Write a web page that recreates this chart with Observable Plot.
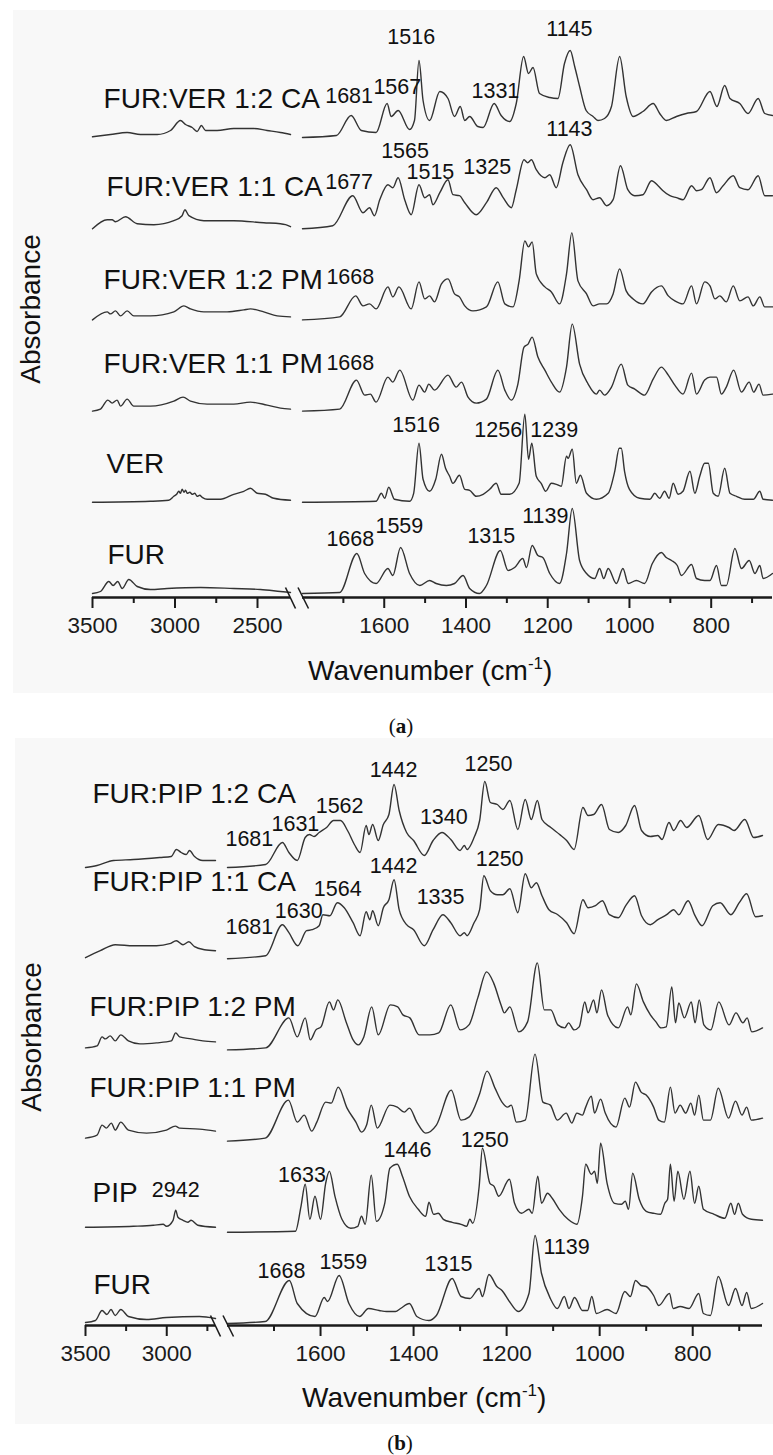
<!DOCTYPE html>
<html><head><meta charset="utf-8">
<script src="https://cdn.jsdelivr.net/npm/d3@7"></script>
<script src="https://cdn.jsdelivr.net/npm/@observablehq/plot@0.6"></script>
<style>
html,body{margin:0;padding:0;background:#fff}
body{width:773px;height:1455px;position:relative;overflow:hidden;font-family:"Liberation Sans",Arial,sans-serif}
.bg{position:absolute;background:#f8f8f8}
.abs{position:absolute}
</style></head>
<body>
<div class="bg" style="left:13px;top:10px;width:760px;height:683px"></div>
<div class="bg" style="left:15px;top:738px;width:758px;height:686px"></div>
<div id="pa" class="abs" style="left:0;top:10px;width:773px;height:700px"></div>
<div id="pb" class="abs" style="left:0;top:738px;width:773px;height:700px"></div>
<svg class="abs" style="left:0;top:0;overflow:visible" width="773" height="1455" font-family="Liberation Sans, Arial, sans-serif" fill="#111">
  <text transform="translate(40,309) rotate(-90)" text-anchor="middle" font-size="28">Absorbance</text>
  <text x="308" y="680" font-size="28">Wavenumber (cm<tspan dy="-11" font-size="17">-1</tspan><tspan dy="11">)</tspan></text>
  <text x="401" y="733" text-anchor="middle" font-family="Liberation Serif, DejaVu Serif, serif" font-size="21">(<tspan font-weight="bold">a</tspan>)</text>
  <text transform="translate(41,1037) rotate(-90)" text-anchor="middle" font-size="28">Absorbance</text>
  <text x="302" y="1407" font-size="28">Wavenumber (cm<tspan dy="-11" font-size="17">-1</tspan><tspan dy="11">)</tspan></text>
  <text x="400" y="1450" text-anchor="middle" font-family="Liberation Serif, DejaVu Serif, serif" font-size="21">(<tspan font-weight="bold">b</tspan>)</text>
</svg>
<script>
// ---------------- Panel (a): FUR / VER ----------------
const namesA = ["FUR:VER 1:2 CA", "FUR:VER 1:1 CA", "FUR:VER 1:2 PM", "FUR:VER 1:1 PM", "VER", "FUR"];
// [wavenumber, absorbance (a.u.)]
const a12CA_L = [[3500,0.7],[3391,3],[3290,5],[3209,3],[3108,3],[3027,7],[2967,17],[2936,13],[2896,10],[2866,6],[2840,12],[2815,7],[2745,7],[2644,9],[2522,9],[2442,7],[2361,5],[2300,3]];
const a12CA_R = [[1800,0],[1717,2],[1681,22],[1656,7],[1620,5],[1593,34],[1583,21],[1566,27],[1538,8],[1526,17],[1515,77],[1505,37],[1489,17],[1464,46],[1444,39],[1428,21],[1414,31],[1403,17],[1391,21],[1371,11],[1358,10],[1331,34],[1314,22],[1293,16],[1277,34],[1259,81],[1247,64],[1236,70],[1220,44],[1195,40],[1175,39],[1159,74],[1145,87],[1134,71],[1122,51],[1106,27],[1089,21],[1077,17],[1061,19],[1044,31],[1024,81],[1008,41],[991,21],[967,26],[942,34],[926,24],[910,17],[885,21],[861,24],[836,26],[803,46],[786,31],[767,52],[754,39],[730,34],[710,24],[685,39],[669,24],[650,22]];
const a11CA_L = [[3500,0],[3411,9],[3381,9],[3361,7],[3300,12],[3229,5],[3128,4],[3007,8],[2957,13],[2940,19],[2916,13],[2825,8],[2644,8],[2462,6],[2361,5],[2330,4],[2300,2]];
const a11CA_R = [[1800,0],[1726,3],[1677,33],[1652,16],[1636,21],[1624,13],[1611,29],[1591,44],[1579,41],[1566,51],[1550,29],[1534,14],[1515,44],[1501,31],[1489,34],[1481,24],[1464,36],[1444,49],[1432,34],[1416,33],[1403,26],[1375,14],[1350,26],[1326,41],[1309,31],[1289,21],[1277,39],[1258,69],[1249,66],[1240,69],[1228,59],[1207,51],[1195,54],[1179,41],[1163,66],[1145,84],[1126,54],[1105,39],[1089,29],[1073,31],[1056,23],[1040,29],[1022,63],[1004,39],[987,33],[967,34],[946,48],[930,43],[918,38],[901,33],[885,31],[869,29],[848,43],[836,38],[824,39],[803,51],[787,36],[771,43],[746,53],[730,41],[710,39],[685,53],[669,33],[650,33]];
const a12PM_L = [[3500,0],[3411,8],[3391,6],[3361,9],[3330,4],[3290,9],[3250,4],[3149,4],[3007,8],[2946,14],[2906,11],[2825,8],[2684,8],[2583,10],[2543,11],[2462,8],[2381,4],[2300,3]];
const a12PM_R = [[1800,0],[1709,3],[1670,24],[1652,14],[1636,16],[1620,11],[1591,33],[1579,23],[1564,33],[1534,11],[1515,38],[1501,21],[1489,24],[1477,18],[1460,36],[1444,41],[1428,26],[1416,23],[1403,14],[1383,9],[1350,13],[1322,38],[1305,16],[1285,13],[1270,39],[1256,79],[1247,73],[1238,78],[1228,46],[1207,33],[1191,28],[1171,16],[1154,46],[1141,87],[1126,39],[1105,26],[1089,14],[1073,16],[1056,16],[1040,26],[1024,51],[1008,29],[991,21],[967,16],[946,28],[922,34],[905,24],[889,19],[869,16],[848,34],[836,16],[816,38],[803,34],[791,21],[779,24],[763,18],[746,34],[730,19],[710,23],[697,14],[681,23],[669,13],[650,13]];
const a11PM_L = [[3500,0],[3452,2],[3407,11],[3381,8],[3351,11],[3330,5],[3290,12],[3250,5],[3149,5],[3007,10],[2951,14],[2906,10],[2805,7],[2644,7],[2543,9],[2442,6],[2361,3],[2300,2]];
const a11PM_R = [[1800,0],[1709,2],[1668,31],[1648,16],[1634,17],[1620,9],[1591,34],[1579,29],[1562,41],[1530,11],[1515,26],[1501,19],[1491,27],[1477,21],[1444,36],[1424,24],[1411,29],[1395,14],[1375,8],[1350,12],[1322,41],[1305,21],[1289,11],[1273,27],[1258,64],[1248,67],[1238,74],[1224,54],[1207,41],[1191,29],[1171,19],[1154,44],[1140,87],[1122,47],[1101,27],[1081,17],[1073,21],[1061,16],[1044,24],[1020,47],[1004,26],[987,22],[963,16],[942,32],[922,44],[905,36],[889,26],[869,17],[848,38],[836,17],[816,31],[803,34],[787,34],[775,17],[763,24],[745,41],[726,19],[707,29],[696,19],[683,27],[673,16],[650,17]];
const aVER_L = [[3500,0],[3149,1],[3038,2],[3007,6],[2990,8],[2977,11],[2967,9],[2957,13],[2945,10],[2936,12],[2926,9],[2910,10],[2896,8],[2880,9],[2866,6],[2850,7],[2835,5],[2805,3],[2724,3],[2644,8],[2583,11],[2543,14],[2502,9],[2452,8],[2401,4],[2300,2]];
const aVER_R = [[1800,0],[1620,1],[1607,9],[1599,4],[1589,15],[1575,3],[1538,1],[1528,9],[1515,59],[1505,23],[1489,11],[1474,23],[1460,48],[1450,34],[1440,26],[1432,19],[1416,27],[1403,13],[1391,12],[1375,6],[1358,8],[1342,13],[1326,19],[1314,8],[1293,8],[1270,19],[1256,88],[1247,43],[1239,59],[1228,26],[1216,19],[1205,11],[1191,19],[1179,18],[1167,16],[1154,46],[1150,44],[1140,53],[1130,19],[1120,27],[1105,9],[1081,3],[1052,9],[1036,31],[1025,54],[1020,54],[1012,31],[1000,13],[975,4],[950,3],[938,9],[926,4],[914,11],[903,4],[893,19],[881,8],[869,11],[852,31],[840,9],[828,26],[816,39],[807,39],[795,9],[783,6],[767,34],[754,9],[738,6],[718,3],[697,3],[681,11],[673,3],[650,2]];
const aFUR_L = [[3500,0],[3452,2],[3401,12],[3375,8],[3347,12],[3320,5],[3280,14],[3229,7],[3149,4],[3048,5],[2845,6],[2644,5],[2482,4],[2361,2],[2300,1]];
const aFUR_R = [[1800,0],[1709,1],[1667,40],[1648,20],[1620,10],[1591,25],[1579,18],[1560,46],[1538,20],[1513,8],[1489,13],[1473,10],[1448,8],[1428,10],[1407,18],[1391,5],[1367,0],[1350,8],[1316,43],[1297,23],[1281,26],[1261,35],[1252,26],[1238,48],[1224,38],[1212,36],[1195,20],[1171,10],[1154,40],[1140,85],[1122,33],[1105,20],[1085,15],[1073,25],[1063,15],[1052,25],[1032,10],[1016,25],[1003,10],[983,13],[963,10],[944,30],[922,41],[910,36],[897,33],[883,28],[873,18],[848,29],[836,15],[816,13],[803,13],[787,28],[775,8],[763,8],[742,45],[726,25],[707,33],[693,20],[681,28],[673,15],[650,20]];
// series label anchors [series, wavenumber, absorbance]
const nameAtA = [["FUR:VER 1:2 CA",3433,30],["FUR:VER 1:1 CA",3415,33],["FUR:VER 1:2 PM",3433,31],["FUR:VER 1:1 PM",3433,38],["VER",3415,29],["FUR",3409,30]];
// peak annotations [series, text, wavenumber, absorbance]
const peaksA = [
  ["FUR:VER 1:2 CA","1681",1686,35],["FUR:VER 1:2 CA","1567",1568,44],["FUR:VER 1:2 CA","1516",1534,94],["FUR:VER 1:2 CA","1331",1328,40],["FUR:VER 1:2 CA","1145",1147,102],
  ["FUR:VER 1:1 CA","1677",1686,40],["FUR:VER 1:1 CA","1565",1549,71],["FUR:VER 1:1 CA","1515",1487,50],["FUR:VER 1:1 CA","1325",1348,55],["FUR:VER 1:1 CA","1143",1147,93],
  ["FUR:VER 1:2 PM","1668",1683,36],["FUR:VER 1:1 PM","1668",1683,41],
  ["VER","1516",1522,70],["VER","1256",1321,65],["VER","1239",1184,65],
  ["FUR","1668",1683,48],["FUR","1559",1563,61],["FUR","1315",1338,51],["FUR","1139",1206,71]
];
const majorTicksA = [3500,3000,2500,1600,1400,1200,1000,800];
const minorTicksA = [3250,2750,1700,1500,1300,1100,900,700];

// ---------------- Panel (b): FUR / PIP ----------------
const namesB = ["FUR:PIP 1:2 CA", "FUR:PIP 1:1 CA", "FUR:PIP 1:2 PM", "FUR:PIP 1:1 PM", "PIP", "FUR"];
const b12CA_L = [[3500,0],[3429,2],[3327,7],[3205,8],[3043,10],[2972,11],[2941,18],[2911,15],[2880,13],[2860,17],[2829,11],[2778,7],[2700,7]];
const b12CA_R = [[1800,0],[1718,3],[1682,25],[1668,15],[1650,7],[1633,30],[1624,33],[1614,31],[1603,35],[1587,40],[1572,47],[1557,47],[1542,37],[1526,22],[1515,15],[1502,42],[1496,33],[1488,43],[1476,27],[1465,43],[1453,53],[1442,83],[1431,57],[1415,35],[1400,27],[1377,12],[1358,27],[1339,35],[1320,28],[1300,17],[1291,22],[1285,18],[1270,30],[1258,47],[1247,86],[1235,65],[1220,63],[1208,58],[1193,67],[1176,38],[1160,68],[1147,48],[1134,67],[1124,48],[1105,40],[1086,33],[1071,27],[1055,18],[1036,60],[1025,52],[1013,53],[996,63],[979,38],[960,35],[944,42],[925,62],[910,37],[891,31],[875,32],[866,28],[851,45],[841,37],[826,47],[813,40],[787,52],[768,28],[745,43],[722,40],[711,37],[688,48],[669,30],[650,32]];
const b11CA_L = [[3500,1],[3409,8],[3317,14],[3205,13],[3063,13],[2982,15],[2941,18],[2900,14],[2864,17],[2829,12],[2768,9],[2700,8]];
const b11CA_R = [[1800,0],[1718,3],[1682,34],[1668,26],[1649,13],[1630,28],[1618,29],[1603,33],[1595,44],[1580,43],[1564,56],[1549,51],[1530,36],[1515,23],[1502,47],[1494,39],[1488,48],[1476,33],[1465,51],[1453,59],[1442,79],[1431,49],[1415,34],[1400,29],[1377,13],[1358,29],[1337,44],[1320,36],[1300,23],[1291,26],[1285,23],[1270,36],[1258,49],[1249,83],[1235,68],[1220,64],[1208,64],[1193,70],[1176,46],[1160,85],[1147,71],[1136,76],[1124,63],[1109,49],[1090,44],[1071,36],[1055,25],[1036,59],[1025,51],[1009,53],[994,58],[979,44],[960,41],[944,53],[925,63],[910,43],[891,34],[875,39],[856,44],[841,49],[830,44],[810,58],[795,43],[780,33],[757,53],[741,56],[718,44],[700,56],[684,65],[665,42],[650,43]];
const b12PM_L = [[3500,2],[3429,4],[3398,13],[3378,11],[3348,14],[3317,9],[3283,15],[3236,9],[3165,6],[3063,7],[2972,9],[2945,17],[2921,13],[2850,11],[2778,9],[2700,8]];
const b12PM_R = [[1800,0],[1718,2],[1668,32],[1650,13],[1633,32],[1622,10],[1610,20],[1599,23],[1581,48],[1572,40],[1563,50],[1545,28],[1530,10],[1519,5],[1507,13],[1490,43],[1476,15],[1450,45],[1434,43],[1423,35],[1408,32],[1388,15],[1365,15],[1346,17],[1320,45],[1300,20],[1281,25],[1262,52],[1243,78],[1228,67],[1212,45],[1205,37],[1193,43],[1174,18],[1155,28],[1134,87],[1119,40],[1105,40],[1090,25],[1075,22],[1067,27],[1055,20],[1044,23],[1032,48],[1025,37],[1013,50],[1006,37],[996,60],[983,35],[960,22],[940,43],[933,35],[921,66],[906,48],[891,35],[879,28],[868,22],[857,23],[845,63],[837,27],[830,47],[818,32],[803,48],[795,27],[786,50],[776,25],[761,20],[744,48],[722,25],[707,37],[692,27],[683,32],[673,18],[650,22]];
const b11PM_L = [[3500,3],[3429,6],[3398,16],[3372,13],[3341,18],[3317,11],[3283,19],[3236,11],[3124,8],[3002,11],[2947,15],[2921,13],[2799,12],[2700,10]];
const b11PM_R = [[1800,0],[1719,3],[1669,41],[1650,19],[1635,26],[1619,10],[1608,19],[1589,39],[1577,38],[1562,54],[1543,33],[1524,19],[1512,9],[1501,16],[1491,36],[1478,13],[1451,36],[1435,34],[1420,29],[1409,33],[1393,19],[1374,8],[1351,16],[1319,51],[1298,21],[1281,24],[1259,46],[1242,70],[1225,53],[1210,39],[1198,34],[1190,36],[1179,19],[1160,21],[1139,87],[1122,39],[1106,36],[1091,21],[1072,28],[1060,18],[1049,28],[1037,26],[1030,34],[1018,45],[1011,28],[998,42],[988,28],[965,14],[946,43],[936,34],[923,59],[911,49],[900,46],[884,34],[873,21],[861,19],[848,54],[838,28],[827,36],[815,28],[804,38],[796,26],[787,46],[777,21],[762,21],[745,53],[723,23],[708,40],[694,26],[684,34],[674,21],[650,23]];
const bPIP_L = [[3500,5],[3205,6],[3083,7],[3022,8],[3002,6],[2961,12],[2945,22],[2931,15],[2900,12],[2870,10],[2850,12],[2809,7],[2700,5]];
const bPIP_R = [[1800,0],[1654,1],[1642,26],[1633,48],[1623,13],[1612,36],[1600,13],[1589,49],[1581,61],[1569,36],[1554,13],[1535,4],[1520,6],[1512,16],[1504,8],[1491,57],[1480,11],[1462,29],[1451,64],[1435,68],[1424,56],[1409,36],[1390,23],[1374,16],[1367,30],[1357,18],[1347,19],[1336,13],[1317,10],[1298,8],[1286,6],[1279,13],[1273,9],[1259,46],[1252,84],[1236,49],[1227,46],[1217,36],[1194,53],[1183,29],[1168,19],[1152,23],[1145,19],[1133,56],[1125,29],[1112,39],[1102,34],[1087,23],[1068,13],[1049,8],[1037,36],[1030,68],[1018,58],[1011,61],[1005,49],[998,89],[984,49],[968,29],[953,28],[945,31],[938,23],[929,59],[915,33],[900,21],[884,19],[869,18],[860,29],[854,33],[848,68],[840,31],[832,61],[819,33],[806,61],[796,29],[787,46],[777,23],[754,18],[731,14],[718,29],[710,18],[702,29],[693,18],[674,13],[650,12]];
const bFUR_L = [[3500,1],[3439,3],[3398,13],[3368,9],[3343,14],[3317,8],[3283,14],[3236,7],[3124,4],[3002,6],[2799,7],[2700,5]];
const bFUR_R = [[1800,0],[1719,2],[1667,43],[1650,20],[1612,7],[1592,26],[1585,22],[1560,48],[1539,20],[1516,7],[1497,15],[1474,13],[1458,12],[1439,12],[1428,15],[1409,20],[1393,7],[1367,3],[1351,8],[1317,45],[1298,27],[1279,25],[1259,35],[1252,27],[1238,49],[1221,37],[1210,33],[1194,22],[1175,12],[1152,30],[1139,88],[1125,50],[1106,25],[1091,15],[1076,27],[1066,15],[1054,26],[1037,13],[1026,13],[1017,27],[1007,10],[984,14],[965,10],[946,32],[934,27],[923,43],[911,38],[900,37],[884,28],[873,18],[850,30],[842,15],[827,17],[808,15],[787,30],[777,10],[762,8],[745,47],[723,18],[708,35],[694,18],[684,31],[674,15],[650,20]];
const nameAtB = [["FUR:PIP 1:2 CA",3457,65],["FUR:PIP 1:1 CA",3457,68],["FUR:PIP 1:2 PM",3476,34],["FUR:PIP 1:1 PM",3476,44],["PIP",3457,30],["FUR",3451,30]];
const peaksB = [
  ["FUR:PIP 1:2 CA","1681",1753,22],["FUR:PIP 1:2 CA","1631",1654,37],["FUR:PIP 1:2 CA","1562",1559,55],["FUR:PIP 1:2 CA","1442",1443,91],["FUR:PIP 1:2 CA","1340",1335,44],["FUR:PIP 1:2 CA","1250",1239,97],
  ["FUR:PIP 1:1 CA","1681",1753,25],["FUR:PIP 1:1 CA","1630",1647,41],["FUR:PIP 1:1 CA","1564",1563,63],["FUR:PIP 1:1 CA","1442",1443,86],["FUR:PIP 1:1 CA","1335",1342,55],["FUR:PIP 1:1 CA","1250",1215,93],
  ["PIP","2942",2945,35],["PIP","1633",1640,50],["PIP","1446",1413,75],["PIP","1250",1247,85],
  ["FUR","1668",1684,46],["FUR","1559",1551,55],["FUR","1315",1325,53],["FUR","1139",1071,70]
];
const majorTicksB = [3500,3000,1600,1400,1200,1000,800];
const minorTicksB = [3250,2750,1700,1500,1300,1100,900,700];

// ---------------- drawing ----------------
const W = 773, BAND = 91.2, MT = 39.8, MB = 50;

// one plot per axis segment; both share the same facet layout
function segment({names, spectra, side, nameAt, peaks, domain, pxLeft, pxRight, yDomain, major, minor, withBreak}) {
  const lo = Math.min(...domain), hi = Math.max(...domain);
  const inSeg = x => x >= lo - 60 && x <= hi + 60;
  const rows = [];
  names.forEach((name, i) => {
    spectra[i][side].forEach(([wn, v]) => rows.push({name, wn, abs: v}));
  });
  const last = names[names.length - 1];
  const y0 = yDomain[0];
  const nameRows = nameAt.filter(d => inSeg(d[1])).map(([fy, x, y]) => ({fy, x, y, text: fy}));
  const peakRows = peaks.filter(d => inSeg(d[2])).map(([fy, text, x, y]) => ({fy, x, y, text}));
  const marks = [
    Plot.ruleY([{fy: last, y: y0}], {y: "y", fy: "fy", stroke: "#1a1a1a", strokeWidth: 2.6}),
    Plot.line(rows, {x: "wn", y: "abs", fy: "name", z: "name", stroke: "#333", strokeWidth: 1.4, curve: "monotone-x"}),
    Plot.axisX({ticks: major.filter(t => t >= lo && t <= hi), tickSize: 11, tickPadding: 9, tickFormat: d => String(d), strokeWidth: 2, color: "#1a1a1a", label: null, fontSize: 22.5}),
    Plot.axisX({ticks: minor.filter(t => t >= lo && t <= hi), tickSize: 6, tickFormat: () => "", strokeWidth: 2, color: "#1a1a1a", label: null}),
    Plot.text(nameRows, {x: "x", y: "y", fy: "fy", text: "text", textAnchor: "start", lineAnchor: "bottom", fontSize: 28, fill: "#111"}),
    Plot.text(peakRows, {x: "x", y: "y", fy: "fy", text: "text", textAnchor: "middle", lineAnchor: "bottom", fontSize: 21.5, fill: "#111"})
  ];
  if (withBreak) {
    // two slanted break strokes just left of this segment's start
    const s = d3.scaleLinear(domain, [pxLeft, W - pxRight]);
    const gc = pxLeft - 6;
    const breaks = [[-11, -1], [1.5, 12]].map(([a, b]) => ({fy: last, x1: s.invert(gc + a), x2: s.invert(gc + b), y1: y0 + 10, y2: y0 - 11}));
    marks.push(Plot.link(breaks, {x1: "x1", x2: "x2", y1: "y1", y2: "y2", fy: "fy", stroke: "#1a1a1a", strokeWidth: 1.6}));
  }
  return Plot.plot({
    width: W,
    height: MT + BAND * names.length + MB,
    marginTop: MT, marginBottom: MB, marginLeft: pxLeft, marginRight: pxRight,
    style: {background: "transparent", overflow: "visible", fontFamily: "Liberation Sans, Arial, sans-serif", fontSize: "22.5px", color: "#111", position: "absolute", left: "0px", top: "0px"},
    x: {domain, label: null},
    y: {domain: yDomain, axis: null},
    fy: {domain: names, padding: 0, axis: null, round: false},
    marks
  });
}

function drawPanel(el, cfg) {
  el.append(segment({...cfg, side: 0, domain: cfg.leftDomain, pxLeft: cfg.leftPx[0], pxRight: W - cfg.leftPx[1], withBreak: false}));
  el.append(segment({...cfg, side: 1, domain: cfg.rightDomain, pxLeft: cfg.rightPx[0], pxRight: W - cfg.rightPx[1], withBreak: true}));
}

drawPanel(document.getElementById("pa"), {
  names: namesA,
  spectra: [[a12CA_L, a12CA_R], [a11CA_L, a11CA_R], [a12PM_L, a12PM_R], [a11PM_L, a11PM_R], [aVER_L, aVER_R], [aFUR_L, aFUR_R]],
  nameAt: nameAtA, peaks: peaksA,
  leftDomain: [3500, 2300], leftPx: [92, 290],
  rightDomain: [1800, 650], rightPx: [302, 772],
  yDomain: [-4, BAND - 4], major: majorTicksA, minor: minorTicksA
});
drawPanel(document.getElementById("pb"), {
  names: namesB,
  spectra: [[b12CA_L, b12CA_R], [b11CA_L, b11CA_R], [b12PM_L, b12PM_R], [b11PM_L, b11PM_R], [bPIP_L, bPIP_R], [bFUR_L, bFUR_R]],
  nameAt: nameAtB, peaks: peaksB,
  leftDomain: [3500, 2700], leftPx: [85, 215],
  rightDomain: [1800, 650], rightPx: [227, 762],
  yDomain: [-2, BAND - 2], major: majorTicksB, minor: minorTicksB
});
</script>
</body></html>
